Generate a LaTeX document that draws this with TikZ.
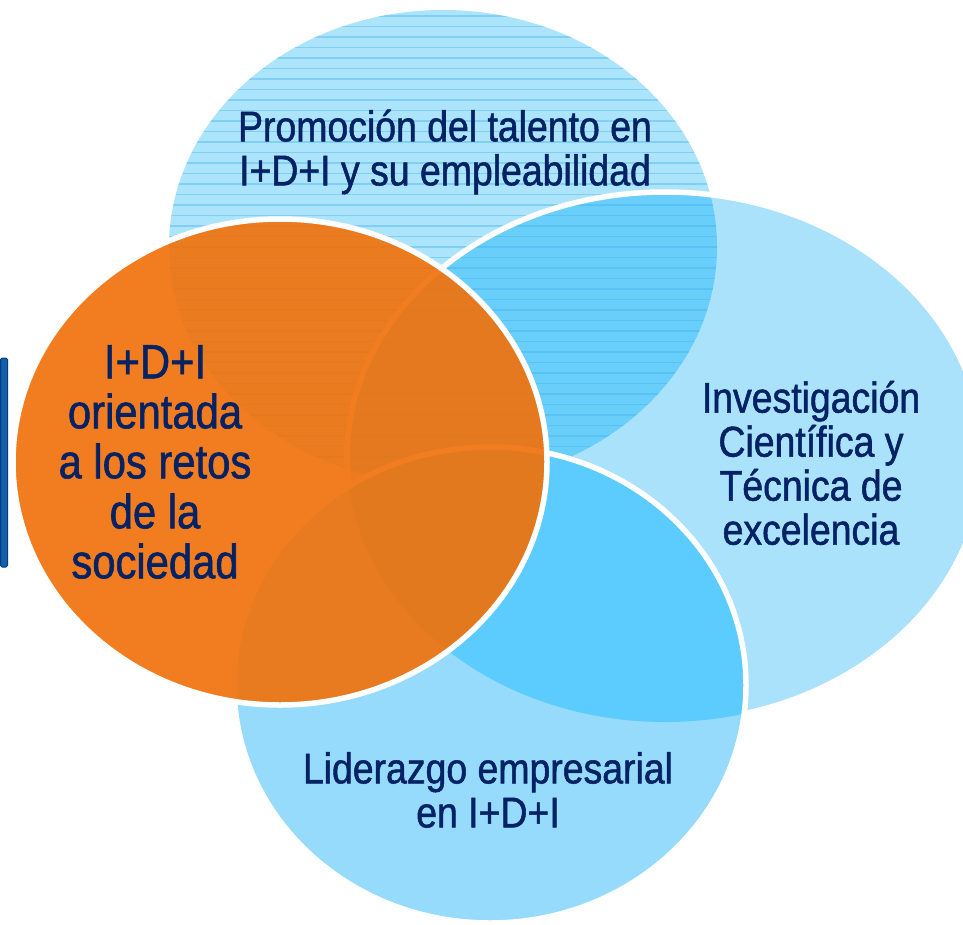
\documentclass[tikz,border=0pt]{standalone}
\usepackage{fontspec}
\setmainfont{Liberation Sans}[FakeStretch=0.87,FakeBold=1.2]
\definecolor{navy}{RGB}{5,35,100}
\definecolor{ltop}{RGB}{172,228,252}
\definecolor{lright}{RGB}{170,226,251}
\definecolor{lbot}{RGB}{150,219,252}
\definecolor{dtr}{RGB}{106,206,250}
\definecolor{dbr}{RGB}{92,203,253}
\definecolor{stripec}{RGB}{60,175,235}
\definecolor{orfill}{RGB}{241,113,10}
\definecolor{barfill}{RGB}{16,96,170}
\definecolor{barline}{RGB}{8,60,130}
\tikzset{
  wborder/.style={draw=white,line width=5.5pt},
  stripe/.style={draw=stripec,line width=1.1pt,opacity=0.38},
  bluetxt/.style={text=navy,align=center,inner sep=0pt,font=\fontsize{43}{44}\selectfont},
  orangetxt/.style={text=navy,align=center,inner sep=0pt,font=\fontsize{48}{50}\selectfont},
  barbox/.style={fill=barfill,draw=barline,line width=1pt,rounded corners=1.5pt}
}
\begin{document}
\begin{tikzpicture}[x=1pt,y=-1pt]
\useasboundingbox (0,0) rectangle (963,925);
\fill[white] (0,0) rectangle (963,925);
% centres
\coordinate (ctop) at (443,247);
\coordinate (cright) at (665,457);
\coordinate (cbot) at (490,685);
\coordinate (corange) at (280,462);
% top and right ellipses
\fill[ltop] (ctop) ellipse [x radius=274, y radius=237];
\fill[lright] (cright) ellipse [x radius=318, y radius=265];
\begin{scope}
  \clip (cright) ellipse [x radius=318, y radius=265];
  \fill[dtr] (ctop) ellipse [x radius=274, y radius=237];
\end{scope}
\begin{scope}
  \clip (ctop) ellipse [x radius=274, y radius=237];
  \foreach \yy in {16,26.5,...,490} \draw[stripe] (160,\yy) -- (730,\yy);
\end{scope}
\draw[wborder] (cright) ellipse [x radius=318, y radius=265];
% bottom ellipse
\fill[lbot] (cbot) ellipse [x radius=256, y radius=238];
\begin{scope}
  \clip (cright) ellipse [x radius=318, y radius=265];
  \fill[dbr] (cbot) ellipse [x radius=256, y radius=238];
\end{scope}
\draw[wborder] (cbot) ellipse [x radius=256, y radius=238];
% orange ellipse
\fill[orfill,opacity=0.91] (corange) ellipse [x radius=267, y radius=243];
\draw[wborder] (corange) ellipse [x radius=267, y radius=243];
% texts
\node[bluetxt] (ttop) at (445,152) {Promoción del talento en\\I+D+I y su empleabilidad};
\node[bluetxt] (tright) at (811,463) {Investigación\\Científica y\\Técnica de\\excelencia};
\node[bluetxt] (tbot) at (488,790) {Liderazgo empresarial\\en I+D+I};
\node[orangetxt] (torange) at (155,462) {I+D+I\\orientada\\a los retos\\de la\\sociedad};
% left bar
\draw[barbox] (0.5,358) rectangle (7.5,567);
\end{tikzpicture}
\end{document}
